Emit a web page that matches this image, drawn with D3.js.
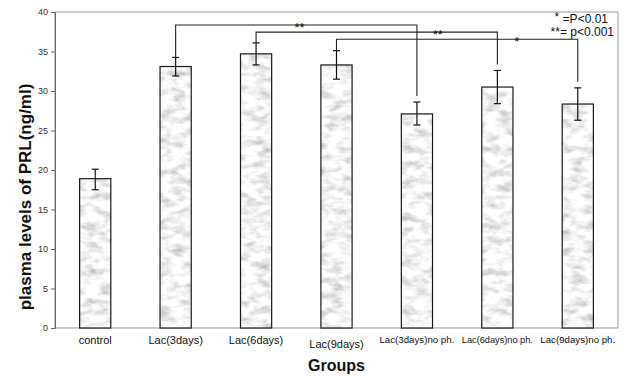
<!DOCTYPE html>
<html><head><meta charset="utf-8">
<script src="https://cdn.jsdelivr.net/npm/d3@7/dist/d3.min.js"></script>
<style>body{margin:0;background:#fff}svg{display:block}text{font-family:"Liberation Sans",Arial,sans-serif}</style>
</head><body>
<script>
const categories = ["control","Lac(3days)","Lac(6days)","Lac(9days)","Lac(3days)no ph.","Lac(6days)no ph.","Lac(9days)no ph."];
const means = [18.9, 33.1, 34.7, 33.3, 27.1, 30.5, 28.35];
const errLow = [17.5, 31.9, 33.3, 31.5, 25.7, 28.4, 26.3];
const errHigh = [20.1, 34.25, 36.1, 35.1, 28.6, 32.6, 30.4];
const yTicks = [0,5,10,15,20,25,30,35,40];
// significance brackets: [from index, to index, label, bracket level, label position (category units)]
const brackets = [
  [1, 4, "**", 38.35, 2.54],
  [2, 5, "**", 37.45, 4.26],
  [3, 6, "*", 36.55, 5.24]
];
const legendLines = [["*", " =P<0.01"], ["**", "= p<0.001"]];

const W = 624, H = 376;
const m = {l:55, r:618, t:12, b:328};
const svg = d3.select("body").append("svg").attr("width", W).attr("height", H);

const defs = svg.append("defs");
const f = defs.append("filter").attr("id","marble").attr("filterUnits","userSpaceOnUse")
  .attr("x",0).attr("y",0).attr("width",W).attr("height",H);
f.append("feTurbulence").attr("type","fractalNoise").attr("baseFrequency","0.07 0.13")
  .attr("numOctaves",4).attr("seed",7).attr("result","n");
f.append("feColorMatrix").attr("in","n").attr("type","matrix")
  .attr("values","1.0 0 0 0 0.40  1.0 0 0 0 0.40  1.0 0 0 0 0.40  0 0 0 0 1").attr("result","g");
f.append("feComposite").attr("in","g").attr("in2","SourceGraphic").attr("operator","in");

const x = d3.scaleBand().domain(categories).range([m.l, m.r]).paddingInner(0.6).paddingOuter(0.3);
const y = d3.scaleLinear().domain([0, 40]).range([m.b, m.t]);
const cx = i => x(categories[i]) + x.bandwidth()/2;
const step = x.step();
const posAt = u => cx(0) + u * step;

// plot border
svg.append("rect").attr("x", m.l).attr("y", m.t).attr("width", m.r - m.l).attr("height", m.b - m.t)
  .attr("fill","none").attr("stroke","#9a9a9a").attr("stroke-width",1);

// y axis
const ya = svg.append("g").attr("transform",`translate(${m.l},0)`)
  .call(d3.axisLeft(y).tickValues(yTicks).tickSize(4).tickPadding(3));
ya.select(".domain").attr("stroke","#666");
ya.selectAll(".tick line").attr("stroke","#666");
ya.selectAll("text").attr("font-size",9).attr("fill","#333").attr("font-family","'Liberation Sans',Arial,sans-serif");

// bars
const bars = svg.append("g");
bars.selectAll("rect.fillr").data(means).join("rect").attr("class","fillr")
  .attr("x",(d,i)=>x(categories[i])).attr("y",d=>y(d)).attr("width",x.bandwidth()).attr("height",d=>y(0)-y(d))
  .attr("fill","#ddd").attr("filter","url(#marble)");
bars.selectAll("rect.out").data(means).join("rect").attr("class","out")
  .attr("x",(d,i)=>x(categories[i])+0.5).attr("y",d=>y(d)).attr("width",x.bandwidth()-1).attr("height",d=>y(0)-y(d))
  .attr("fill","none").attr("stroke","#1a1a1a").attr("stroke-width",1.2);

// error bars
const eb = svg.append("g").attr("stroke","#111").attr("stroke-width",1.2);
means.forEach((d,i)=>{
  const c = cx(i);
  eb.append("line").attr("x1",c).attr("x2",c).attr("y1",y(errLow[i])).attr("y2",y(errHigh[i]));
  eb.append("line").attr("x1",c-3.5).attr("x2",c+3.5).attr("y1",y(errLow[i])).attr("y2",y(errLow[i]));
  eb.append("line").attr("x1",c-3.5).attr("x2",c+3.5).attr("y1",y(errHigh[i])).attr("y2",y(errHigh[i]));
});

// brackets
const bg = svg.append("g");
brackets.forEach(([a,b,lab,lev,lp])=>{
  const ya1 = y(errHigh[a]), yb = y(errHigh[b]) - 6, yl = y(lev);
  bg.append("path").attr("d",`M${cx(a)},${ya1}V${yl}H${cx(b)}V${yb}`)
    .attr("fill","none").attr("stroke","#222").attr("stroke-width",1.1);
  bg.append("text").attr("x",posAt(lp)).attr("y",yl+7).attr("text-anchor","middle")
    .attr("font-size",13).attr("fill","#111").text(lab);
});

// legend
const lg = svg.append("g").attr("font-size",12).attr("fill","#111");
const l1 = lg.append("text").attr("x",608).attr("y",23).attr("text-anchor","end");
l1.append("tspan").attr("dy",-2).text(legendLines[0][0]);
l1.append("tspan").attr("dy",2).text(legendLines[0][1]);
const l2 = lg.append("text").attr("x",614).attr("y",35.5).attr("text-anchor","end");
l2.append("tspan").text(legendLines[1][0]);
l2.append("tspan").text(legendLines[1][1]);

// x labels
const labSize = [11,11,11,11,9.7,9.2,9.7];
const labDy = [0,0,0,4,-1,-1,-1];
svg.append("g").selectAll("text").data(categories).join("text")
  .attr("x",(d,i)=>cx(i)).attr("y",(d,i)=>344+labDy[i]).attr("text-anchor","middle")
  .attr("font-size",(d,i)=>labSize[i]).attr("fill","#111").text(d=>d);

// titles
svg.append("text").attr("x",(m.l+m.r)/2).attr("y",371).attr("text-anchor","middle")
  .attr("font-size",16).attr("font-weight","bold").attr("fill","#111").text("Groups");
svg.append("text").attr("transform","translate(31,197) rotate(-90)").attr("text-anchor","middle")
  .attr("font-size",17).attr("font-weight","bold").attr("fill","#111").text("plasma levels of PRL(ng/ml)");
</script>
</body></html>
